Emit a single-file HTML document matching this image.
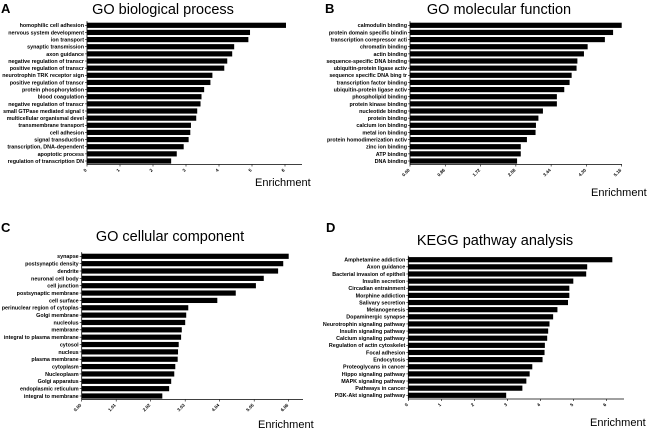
<!DOCTYPE html>
<html><head><meta charset="utf-8"><style>
html,body{margin:0;padding:0;background:#fff;}
svg{display:block;font-family:"Liberation Sans",Arial,sans-serif;}
</style></head><body>
<svg id="fig" width="650" height="433" viewBox="0 0 650 433"></svg>
<script>
const catsA=["homophilic cell adhesion","nervous system development","ion transport","synaptic transmission","axon guidance","negative regulation of transcr","positive regulation of transcr","neurotrophin TRK receptor sign","positive regulation of transcr","protein phosphorylation","blood coagulation","negative regulation of transcr","small GTPase mediated signal t","multicellular organismal devel","transmembrane transport","cell adhesion","signal transduction","transcription, DNA-dependent","apoptotic process","regulation of transcription DN"];
const valsA=[6.03,4.94,4.89,4.46,4.40,4.25,4.16,3.80,3.74,3.55,3.47,3.44,3.34,3.31,3.15,3.13,3.08,2.93,2.72,2.55];
const ticksA=["0","1","2","3","4","5","6"];
const catsB=["calmodulin binding","protein domain specific bindin","transcription corepressor acti","chromatin binding","actin binding","sequence-specific DNA binding","ubiquitin-protein ligase activ","sequence specific DNA bing  tr","transcription factor binding","ubiquitin-protein ligase activ","phospholipid binding","protein kinase binding","nucleotide binding","protein binding","calcium ion binding","metal ion binding","protein homodimerization activ","zinc ion binding","ATP binding","DNA binding"];
const valsB=[5.16,4.95,4.75,4.33,4.24,4.08,4.06,3.94,3.89,3.76,3.58,3.58,3.24,3.13,3.07,3.06,2.85,2.70,2.70,2.61];
const ticksB=["0.00","0.86","1.72","2.58","3.44","4.30","5.16"];
const catsC=["synapse","postsynaptic density","dendrite","neuronal cell body","cell junction","postsynaptic membrane","cell surface","perinuclear region of cytoplas","Golgi membrane","nucleolus","membrane","integral to plasma membrane","cytosol","nucleus","plasma membrane","cytoplasm","Nucleoplasm","Golgi apparatus","endoplasmic reticulum","integral to membrane"];
const valsC=[6.06,5.90,5.75,5.33,5.10,4.51,3.97,3.12,3.06,3.03,2.93,2.91,2.84,2.82,2.81,2.74,2.71,2.62,2.56,2.36];
const ticksC=["0.00","1.01","2.02","3.03","4.04","5.05","6.06"];
const catsD=["Amphetamine addiction","Axon guidance","Bacterial invasion of epitheli","Insulin secretion","Circadian entrainment","Morphine addiction","Salivary secretion","Melanogenesis","Dopaminergic synapse","Neurotrophin signaling pathway","Insulin signaling pathway","Calcium signaling pathway","Regulation of actin cytoskelet","Focal adhesion","Endocytosis","Proteoglycans in cancer","Hippo signaling pathway","MAPK signaling pathway","Pathways in cancer","PI3K-Akt signaling pathway"];
const valsD=[6.17,5.41,5.38,4.99,4.87,4.87,4.83,4.51,4.38,4.27,4.23,4.20,4.13,4.12,4.06,3.75,3.67,3.57,3.45,2.96];
const ticksD=["0","1","2","3","4","5","6"];

const NS="http://www.w3.org/2000/svg";
const svg=document.getElementById('fig');
function mk(tag,attrs,parent,txt){const e=document.createElementNS(NS,tag);for(const k in attrs)e.setAttribute(k,attrs[k]);if(txt!==undefined)e.textContent=txt;(parent||svg).appendChild(e);return e;}

function panel(id,letter,title,cats,vals,ticks,g){
  const grp=mk('g',{});
  
  
  const tmax=parseFloat(ticks[ticks.length-1]);
  const x=v=>g.x0+(v/tmax)*(g.x1-g.x0);
  const step=(g.yl-g.yf)/(cats.length-1);
  const y=i=>g.yf+i*step;
  const L=mk('text',{x:g.lx,y:g.ly,'font-size':13,'font-weight':'bold'},grp,letter);
  
  
  const T=mk('text',{x:g.tx,y:g.ty,'font-size':14.5,'text-anchor':'middle'},grp,title);
  
  
  // y axis
  const ya=mk('line',{x1:g.x0,x2:g.x0,y1:g.yf-4,y2:g.axy,stroke:'#000','stroke-width':0.8},grp);
  
  
  cats.forEach((c,i)=>{
    const b=mk('rect',{x:g.x0,y:y(i)-2.6,width:x(vals[i])-g.x0,height:5.2,fill:'#000'},grp);
    
    
    mk('line',{x1:g.x0-2,x2:g.x0,y1:y(i),y2:y(i),stroke:'#000','stroke-width':0.6},grp);
    const t=mk('text',{x:g.x0-3,y:y(i)+1.9,'font-size':5.4,'font-weight':'bold','text-anchor':'end'},grp,c);
    
    
  });
  const xa=mk('line',{x1:g.x0,x2:g.xe,y1:g.axy,y2:g.axy,stroke:'#000','stroke-width':0.8},grp);
  
  
  ticks.forEach(tk=>{
    const xv=x(parseFloat(tk));
    mk('line',{x1:xv,x2:xv,y1:g.axy,y2:g.axy+2,stroke:'#000','stroke-width':0.6},grp);
    const t=mk('text',{x:xv,y:g.axy+6,'font-size':4.5,'font-weight':'bold','text-anchor':'end',transform:'rotate(-45 '+xv+' '+(g.axy+6)+')'},grp,tk);
    
    
  });
  const E=mk('text',{x:g.ex,y:g.ey,'font-size':11},grp,'Enrichment');
  
  
}
panel('a','A','GO biological process',catsA,valsA,ticksA,{x0:87,x1:285,xe:302,yf:25.3,yl:161,axy:164.5,lx:1,ly:13,tx:163,ty:14,ex:255,ey:186});
panel('b','B','GO molecular function',catsB,valsB,ticksB,{x0:410,x1:621.7,xe:622,yf:25.3,yl:161,axy:164.5,lx:325,ly:13,tx:499,ty:14,ex:591,ey:196});
panel('c','C','GO cellular component',catsC,valsC,ticksC,{x0:81.7,x1:288.7,xe:303,yf:256.3,yl:396,axy:399.5,lx:1,ly:232,tx:170,ty:241,ex:258,ey:428});
panel('d','D','KEGG pathway analysis',catsD,valsD,ticksD,{x0:408.3,x1:606.7,xe:624,yf:259.7,yl:395.3,axy:399,lx:326,ly:232,tx:495,ty:245,ex:590,ey:426});
</script>
</body></html>
